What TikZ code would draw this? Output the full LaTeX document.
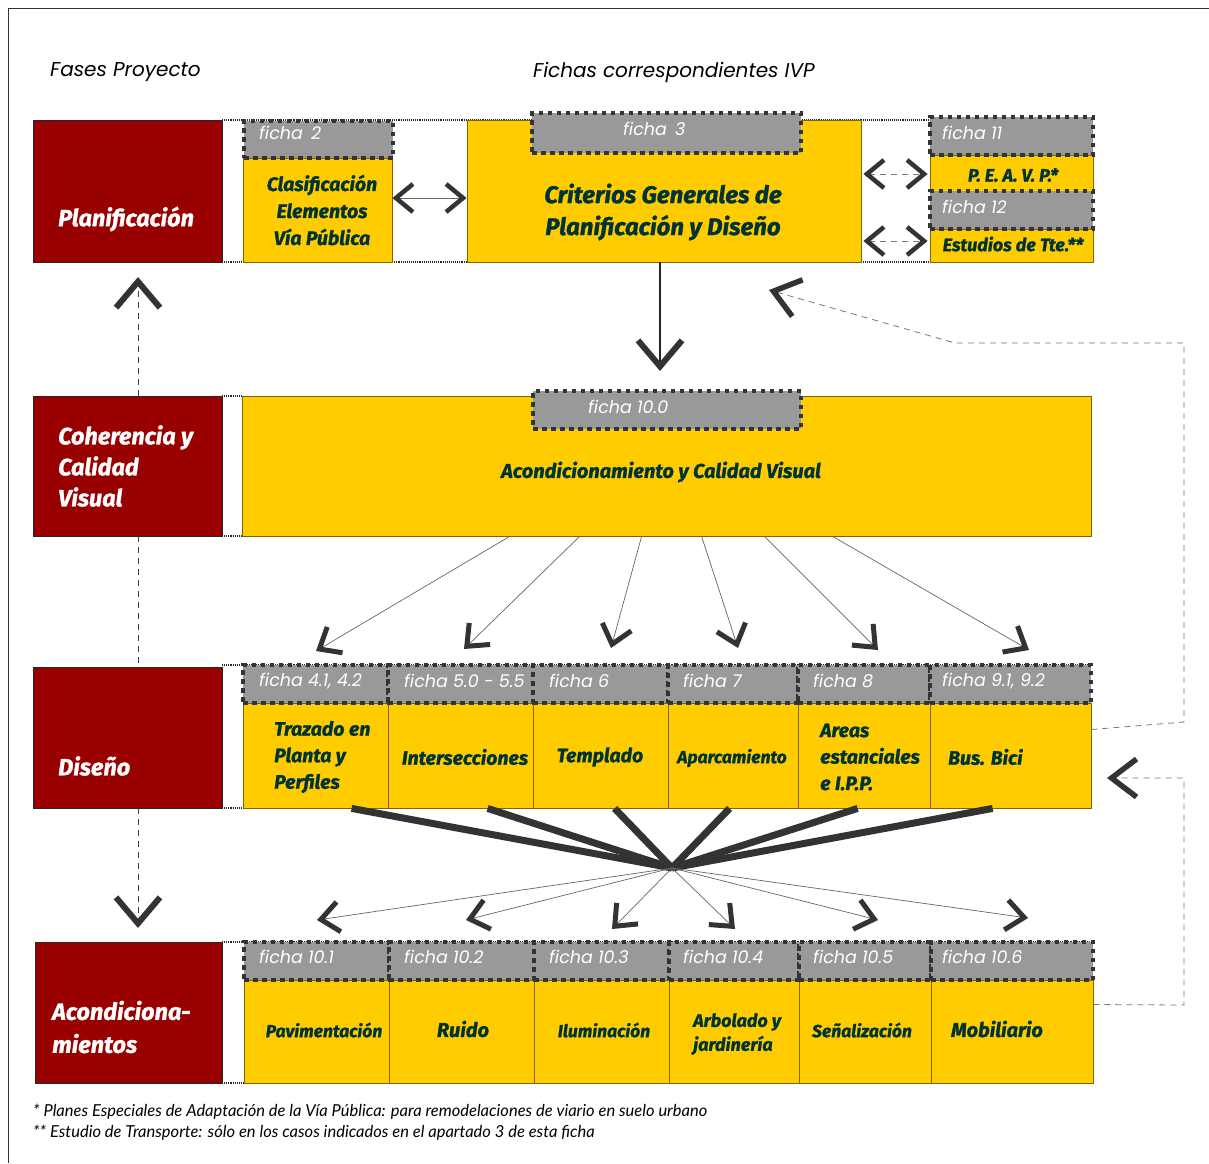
\documentclass[tikz,border=0pt]{standalone}
\usepackage{fontspec}
\usetikzlibrary{arrows.meta,calc}
\newfontfamily\boldfont[BoldItalicFeatures={FakeBold=1.3}]{Fira Sans}
\newfontfamily\fichafont{Poppins}
\newfontfamily\notefont{Lato}
\definecolor{phred}{HTML}{990000}
\definecolor{phyel}{HTML}{FFCC00}
\definecolor{phybd}{HTML}{806600}
\definecolor{phgray}{HTML}{999999}
\definecolor{phdark}{HTML}{333333}
\definecolor{phtxt}{HTML}{003333}
\definecolor{phdash}{HTML}{777777}
\newcommand\bff[2]{\boldfont\bfseries\itshape\fontsize{#1}{#2}\selectfont}
\newcommand\fcf{\fichafont\itshape\fontsize{17.5}{17.5}\selectfont}
\begin{document}
\begin{tikzpicture}[x=1pt,y=-1pt,
  redbox/.style={draw=black!85,fill=phred,line width=0.8pt,inner sep=0pt},
  ybox/.style={draw=phybd,fill=phyel,line width=0.8pt,inner sep=0pt},
  gbox/.style={fill=phgray,draw=phdark,line width=4.5pt,dash pattern=on 4.5pt off 4.5pt,inner sep=0pt},
  ftext/.style={text=white,font=\fcf,anchor=west,inner sep=0pt},
  rtext/.style={text=white,anchor=west,inner sep=0pt,align=left},
  btext/.style={text=phtxt,inner sep=0pt,align=center},
  bltext/.style={text=phtxt,inner sep=0pt,align=left,anchor=west},
  thindot/.style={densely dotted,line width=1.1pt,black!85},
  dsh/.style={phdash,line width=0.8pt,dash pattern=on 6pt off 5pt},
  thin/.style={black!60,line width=0.7pt},
  thick/.style={phdark,line width=7pt},
  chevL/.tip={Straight Barb[length=26pt,width=44pt,line width=6pt,color=phdark]},
  chevM/.tip={Straight Barb[length=18pt,width=30pt,line width=5pt,color=phdark]},
  chevS/.tip={Straight Barb[length=17pt,width=28pt,line width=4.5pt,color=phdark]},
  chevF/.tip={Straight Barb[length=25pt,width=38pt,line width=5.5pt,color=phdark]},
]
\useasboundingbox (0,0) rectangle (1209,1163);
\fill[white] (0,0) rectangle (1209,1163);
% outer frame
\draw[phdark,line width=1.3pt] (8.5,1163) -- (8.5,8.5) -- (1209,8.5);

% headers
\node[anchor=west,inner sep=0pt,font=\fichafont\itshape\fontsize{20}{20}\selectfont] (hFases) at (50,72) {Fases Proyecto};
\node[anchor=west,inner sep=0pt,font=\fichafont\itshape\fontsize{20}{20}\selectfont] (hFichas) at (533,72) {Fichas correspondientes IVP};

% thin dotted guide lines
\draw[thindot] (222,120) -- (1093,120);
\draw[thindot] (222,262) -- (1093,262);
\draw[thindot] (222,396) -- (243,396);
\draw[thindot] (222,536) -- (243,536);
\draw[thindot] (222,665) -- (1091,665);
\draw[thindot] (222,808) -- (1091,808);
\draw[thindot] (222,942) -- (1093,942);
\draw[thindot] (222,1083) -- (1093,1083);

% red phase boxes
\node[redbox,minimum width=189,minimum height=142] (rPlan) at (127.5,191) {};
\node[redbox,minimum width=189,minimum height=140] (rCoh) at (127.5,466) {};
\node[redbox,minimum width=189,minimum height=141] (rDis) at (127.5,737.5) {};
\node[redbox,minimum width=187,minimum height=141] (rAco) at (128.5,1012.5) {};

% row 1
\node[ybox,minimum width=149,minimum height=104] (yClas) at (317.5,210) {};
\node[ybox,minimum width=394,minimum height=142] (yCrit) at (664,191) {};
\node[ybox,minimum width=163,minimum height=36] (yPeavp) at (1011.5,173) {};
\node[ybox,minimum width=163,minimum height=33] (yEst) at (1011.5,245.5) {};
\node[gbox,minimum width=149,minimum height=37] (g2) at (318.5,139.5) {};
\node[gbox,minimum width=269,minimum height=40] (g3) at (666.5,133) {};
\node[gbox,minimum width=163,minimum height=38] (g11) at (1011.5,136) {};
\node[gbox,minimum width=163,minimum height=38] (g12) at (1011.5,210) {};

% row 2
\node[ybox,minimum width=849,minimum height=140] (yAcq) at (666.5,466) {};
\node[gbox,minimum width=268,minimum height=38] (g10) at (667,410) {};

% row 3
\foreach \n/\cx/\w in {1/315.5/145,2/460.5/145,3/600.5/135,4/733/130,5/864/132,6/1010.5/161}{
  \node[ybox,minimum width=\w,minimum height=105] (d\n) at (\cx,755.5) {};
}
\foreach \n/\cx/\w in {1/315.5/145,2/460.5/145,3/600.5/135,4/733/130,5/864/132,6/1010.5/161}{
  \node[gbox,minimum width=\w,minimum height=38] (gd\n) at (\cx,684) {};
}
% row 4
\foreach \n/\cx/\w in {1/316.5/145,2/461.5/145,3/601.5/135,4/734/130,5/865/132,6/1012/162}{
  \node[ybox,minimum width=\w,minimum height=103] (a\n) at (\cx,1031.5) {};
}
\foreach \n/\cx/\w in {1/316.5/145,2/461.5/145,3/601.5/135,4/734/130,5/865/132,6/1012/162}{
  \node[gbox,minimum width=\w,minimum height=38] (ga\n) at (\cx,961) {};
}

% ficha labels
\node[ftext] (f2) at (259,133) {ficha\, 2};
\node[ftext] (f3) at (623,129) {ficha\, 3};
\node[ftext] (f11) at (942,133) {ficha 11};
\node[ftext] (f12) at (942,207) {ficha 12};
\node[ftext] (f10) at (588,407) {ficha 10.0};
\node[ftext] (fd1) at (259,681) {ficha 4.1, 4.2};
\node[ftext] (fd2) at (404,681) {ficha 5.0 - 5.5};
\node[ftext] (fd3) at (549,681) {ficha 6};
\node[ftext] (fd4) at (683,681) {ficha 7};
\node[ftext] (fd5) at (813,681) {ficha 8};
\node[ftext] (fd6) at (942,681) {ficha 9.1, 9.2};
\node[ftext] (fa1) at (259,957) {ficha 10.1};
\node[ftext] (fa2) at (404,957) {ficha 10.2};
\node[ftext] (fa3) at (549,957) {ficha 10.3};
\node[ftext] (fa4) at (683,957) {ficha 10.4};
\node[ftext] (fa5) at (813,957) {ficha 10.5};
\node[ftext] (fa6) at (942,957) {ficha 10.6};

% phase texts
\node[rtext,font=\bff{23.5}{31}] (tPlan) at (58,219) {Planificación};
\node[rtext,font=\bff{23.5}{31}] (tCoh) at (58,466) {Coherencia y\\Calidad\\Visual};
\node[rtext,font=\bff{23.5}{31}] (tDis) at (58,766) {Diseño};
\node[rtext,font=\bff{23.5}{33}] (tAco) at (52,1027) {Acondiciona-\\mientos};

% box texts
\node[btext,font=\bff{19.5}{27}] (tClas) at (322,210) {Clasificación\\Elementos\\Vía Pública};
\node[btext,font=\bff{24}{32}] (tCrit) at (663,212) {Criterios Generales de\\Planificación y Diseño};
\node[btext,font=\bff{18}{18}] (tPeavp) at (1013,175) {P. E. A. V. P.*};
\node[btext,font=\bff{18}{18}] (tEst) at (1013,244) {Estudios de Tte.**};
\node[btext,font=\bff{20}{20}] (tAcq) at (661,472) {Acondicionamiento y Calidad Visual};
\node[bltext,font=\bff{19.5}{26.5}] (td1) at (274,757) {Trazado en\\Planta y\\Perfiles};
\node[btext,font=\bff{19.5}{19.5}] (td2) at (465,757) {Intersecciones};
\node[btext,font=\bff{19.5}{19.5}] (td3) at (600,757) {Templado};
\node[btext,font=\bff{17.5}{17.5}] (td4) at (732,758) {Aparcamiento};
\node[bltext,font=\bff{19.5}{26.5}] (td5) at (820,757) {Areas\\estanciales\\e I.P.P.};
\node[bltext,font=\bff{19.5}{19.5}] (td6) at (948,757) {Bus. Bici};
\node[btext,font=\bff{17.5}{17.5}] (ta1) at (324,1030) {Pavimentación};
\node[btext,font=\bff{20}{20}] (ta2) at (463,1029) {Ruido};
\node[btext,font=\bff{17.5}{17.5}] (ta3) at (604,1030) {Iluminación};
\node[bltext,font=\bff{18}{24}] (ta4) at (693,1034) {Arbolado y\\jardinería};
\node[btext,font=\bff{17.5}{17.5}] (ta5) at (862,1030) {Señalización};
\node[btext,font=\bff{20}{20}] (ta6) at (997,1029) {Mobiliario};

% connectors row 1
\draw[thin,{chevS}-{chevS}] (yClas.east |- 0,198) -- (yCrit.west |- 0,198);
\draw[dsh,{chevS}-{chevS}] ($(yCrit.east)+(2,-17)$) -- ($(yPeavp.west)+(-2,1)$);
\draw[dsh,{chevS}-{chevS}] ($(yCrit.east)+(2,50)$) -- ($(yEst.west)+(-2,-4.5)$);
\coordinate (critT) at (660,371);
\draw[black!85,line width=1.2pt,-{chevL}] (yCrit.south -| critT) -- (critT);

% left phase chain
\coordinate (upT) at (138,277);
\coordinate (dnT) at (138,928);
\draw[dsh,black!75,-{chevL}] (rCoh.north -| upT) -- (upT);
\draw[dsh,black!75] (rCoh.south -| upT) -- (rDis.north -| upT);
\draw[dsh,black!75,-{chevL}] (rDis.south -| dnT) -- (dnT);

% row 2 -> row 3
\coordinate (t1) at (316,651);
\coordinate (t2) at (464,649);
\coordinate (t3) at (611,648);
\coordinate (t4) at (738,648);
\coordinate (t5) at (878,650);
\coordinate (t6) at (1029,650);
\draw[thin,-{chevM}] ($(yAcq.south west)+(268,0)$) -- (t1);
\draw[thin,-{chevM}] ($(yAcq.south west)+(338,0)$) -- (t2);
\draw[thin,-{chevM}] ($(yAcq.south west)+(400,0)$) -- (t3);
\draw[thin,-{chevM}] ($(yAcq.south west)+(460,0)$) -- (t4);
\draw[thin,-{chevM}] ($(yAcq.south west)+(523,0)$) -- (t5);
\draw[thin,-{chevM}] ($(yAcq.south west)+(591,0)$) -- (t6);

% row 3 -> hub -> row 4
\coordinate (hub) at (672,868);
\draw[thick] ($(d1.south west)+(109,0)$) -- (hub);
\draw[thick] ($(d2.south west)+(100,0)$) -- (hub);
\draw[thick] ($(d3.south west)+(82,0)$) -- (hub);
\draw[thick] ($(d4.south west)+(62,0)$) -- (hub);
\draw[thick] ($(d5.south west)+(60,0)$) -- (hub);
\draw[thick] ($(d6.south west)+(63,0)$) -- (hub);
\coordinate (u1) at (317,920);
\coordinate (u2) at (466,920);
\coordinate (u3) at (612,929);
\coordinate (u4) at (735,929);
\coordinate (u5) at (878,920);
\coordinate (u6) at (1028,918);
\foreach \k in {1,...,6}{\draw[thin,-{chevM}] (hub) -- (u\k);}

% feedback dashed loops
\coordinate (fbT1) at (769,290);
\coordinate (fbT2) at (1107,778);
\draw[dsh,-{chevF}] ($(d6.east)+(0,-26)$) -- (1184,722) -- (1184,343) -- (955,343) -- (fbT1);
\draw[dsh,-{chevF}] ($(a6.east)+(0,-27)$) -- (1184,1005) -- (1184,778) -- (fbT2);

% footnotes
\node[anchor=west,inner sep=0pt,font=\notefont\itshape\fontsize{16.5}{16.5}\selectfont] (n1) at (33,1112) {* Planes Especiales de Adaptación de la Vía Pública: para remodelaciones de viario en suelo urbano};
\node[anchor=west,inner sep=0pt,font=\notefont\itshape\fontsize{16.5}{16.5}\selectfont] (n2) at (33,1133) {** Estudio de Transporte: sólo en los casos indicados en el apartado 3 de esta ficha};
\end{tikzpicture}
\end{document}
